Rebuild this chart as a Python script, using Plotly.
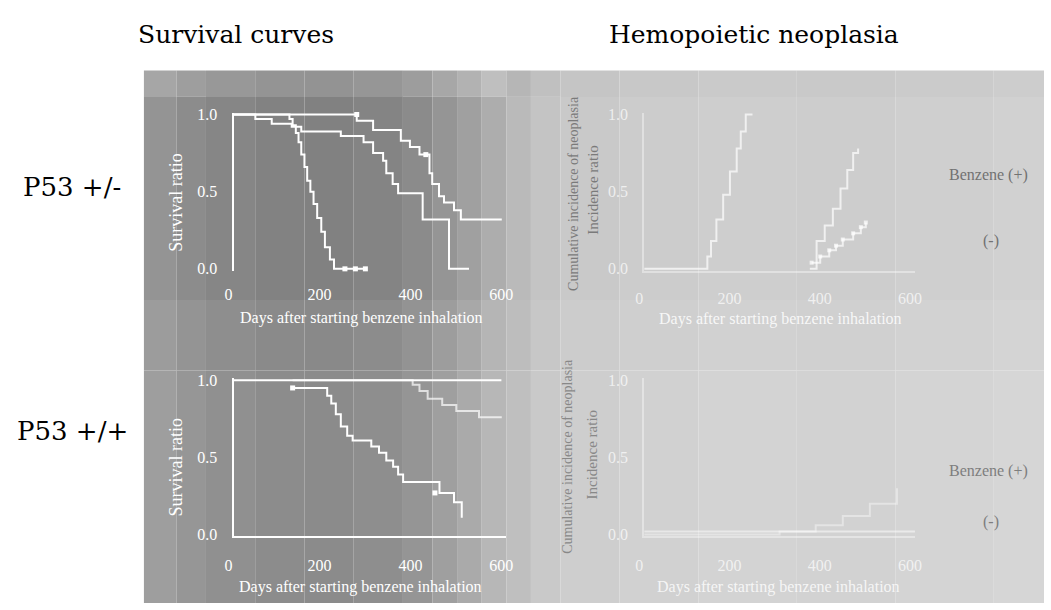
import plotly.graph_objects as go

# ---------------- data ----------------
# Survival curves, P53 +/-  (days, survival ratio; step curves)
tl_days_a = [0, 123, 130, 137, 143, 149, 156, 162, 169, 176, 184, 193, 201, 212, 221, 292]
tl_surv_a = [1.0, 0.97, 0.93, 0.88, 0.82, 0.74, 0.66, 0.57, 0.50, 0.42, 0.33, 0.24, 0.14, 0.06, 0.0, 0.0]
tl_days_b = [0, 48, 84, 128, 149, 236, 286, 307, 329, 336, 350, 362, 416, 474, 518]
tl_surv_b = [1.0, 0.97, 0.94, 0.92, 0.89, 0.86, 0.82, 0.75, 0.70, 0.62, 0.55, 0.49, 0.32, 0.0, 0.0]
tl_days_c = [0, 271, 307, 368, 388, 409, 431, 437, 452, 463, 485, 500, 590]
tl_surv_c = [1.0, 0.96, 0.90, 0.83, 0.79, 0.74, 0.62, 0.55, 0.47, 0.43, 0.38, 0.32, 0.32]
tl_cens_days = [271, 423, 245, 268, 290]
tl_cens_surv = [1.0, 0.74, 0.0, 0.0, 0.0]

# Survival curves, P53 +/+
bl_days_d = [130, 206, 215, 225, 236, 250, 262, 303, 320, 336, 351, 362, 373, 453, 485, 502]
bl_surv_d = [0.95, 0.90, 0.85, 0.78, 0.70, 0.64, 0.61, 0.57, 0.53, 0.48, 0.44, 0.39, 0.34, 0.27, 0.21, 0.11]
bl_days_e = [130, 394, 409, 427, 459, 490, 540, 590]
bl_surv_e = [1.0, 0.97, 0.93, 0.88, 0.84, 0.80, 0.76, 0.76]
bl_cens_days = [130, 443]
bl_cens_surv = [0.95, 0.27]

# Hemopoietic neoplasia, P53 +/-  (days, cumulative incidence)
tr_days_f = [0, 131, 140, 148, 160, 175, 190, 205, 214, 225, 240]
tr_inc_f = [0.0, 0.0, 0.08, 0.18, 0.32, 0.48, 0.63, 0.78, 0.89, 1.0, 1.0]
tr_days_g = [367, 382, 400, 418, 435, 450, 463, 474]
tr_inc_g = [0.0, 0.18, 0.28, 0.39, 0.52, 0.64, 0.75, 0.78]
tr_days_h = [371, 390, 410, 425, 440, 463, 480, 491]
tr_inc_h = [0.04, 0.08, 0.12, 0.15, 0.19, 0.23, 0.27, 0.30]

# Hemopoietic neoplasia, P53 +/+
br_days_i = [0, 300, 380, 440, 500, 560]
br_inc_i = [0.0, 0.02, 0.06, 0.12, 0.2, 0.3]
br_days_j = [0, 600]
br_inc_j = [0.02, 0.02]

x_ticks = [0, 200, 400, 600]
x_ticktext = ["0", "200", "400", "600"]
y_ticks = [0, 0.5, 1.0]
y_ticktext = ["0.0", "0.5", "1.0"]

col_titles = ["Survival curves", "Hemopoietic neoplasia"]
row_titles = ["P53 +/-", "P53 +/+"]
x_title = "Days after starting benzene inhalation"
y_title_left = "Survival ratio"
y_title_right = ["Cumulative incidence of neoplasia", "Incidence ratio"]
legend_texts = ["Benzene (+)", "(-)"]

# ---------------- layout helpers ----------------
W, H = 1051, 610
def fx(px):
    return px / W
def fy(py):
    return 1 - py / H

SERIF = "Liberation Serif"
TITLE_SERIF = "DejaVu Serif"
PAD = 0.012

panels = {
    # name: (x0px, x1px, y_top_px, y_bottom_px)
    "tl": (228, 505, 110, 268),
    "bl": (228, 505, 382, 540),
    "tr": (645, 920, 110, 268),
    "br": (645, 920, 382, 540),
}
axis_ids = {"tl": ("x", "y", ""), "bl": ("x2", "y2", "2"), "tr": ("x3", "y3", "3"), "br": ("x4", "y4", "4")}

fig = go.Figure()

# ---------------- background (scan tone) ----------------
col_edges = [137, 170, 200, 250, 300, 350, 400, 430, 455, 480, 505, 530, 560, 620, 700, 800, 900, 1000, 1051]
col_gray = [148, 140, 134, 130, 129, 132, 139, 149, 160, 173, 186, 196, 201, 204, 206, 205, 207, 209]
row_edges = [65, 92, 300, 372, 610]
row_adj_left = [18, 0, 8, 10]
row_adj_right = [-4, 0, 3, 5]
shapes = []
for ci in range(len(col_edges) - 1):
    for ri in range(len(row_edges) - 1):
        cx = (col_edges[ci] + col_edges[ci + 1]) / 2
        adj = row_adj_left[ri] if cx < 505 else row_adj_right[ri]
        g = max(0, min(255, col_gray[ci] + adj))
        shapes.append(dict(type="rect", xref="paper", yref="paper", layer="below",
                           x0=fx(col_edges[ci]), x1=fx(col_edges[ci + 1]),
                           y0=fy(row_edges[ri + 1]), y1=fy(row_edges[ri]),
                           line=dict(width=0), fillcolor=f"rgb({g},{g},{g})"))

# frame of the lower-left panel (top edge runs a bit further right)
shapes.append(dict(type="line", xref="paper", yref="paper", x0=fx(228), x1=fx(500), y0=fy(382), y1=fy(382),
                   line=dict(color="white", width=2)))

# ---------------- axes ----------------
layout_axes = {}
for name, (x0, x1, yt, yb) in panels.items():
    xa, ya, suf = axis_ids[name]
    span = yb - yt
    left = name in ("tl", "bl")
    txt_col = "white" if left else "rgba(255,255,255,0.7)"
    line_col = "white" if left else "rgba(255,255,255,0.4)"
    layout_axes["xaxis" + suf] = dict(
        domain=[fx(x0), fx(x1)], range=[0, 600], anchor=ya,
        showgrid=False, zeroline=False, ticks="",
        tickvals=x_ticks, ticktext=x_ticktext,
        tickfont=dict(family=SERIF, size=16, color=txt_col),
        ticklabelstandoff=12 if name in ("tl", "tr") else 13,
        ticklabelshift=-5,
        showline=(name != "tl"), linecolor=line_col, linewidth=2,
        fixedrange=True,
    )
    layout_axes["yaxis" + suf] = dict(
        domain=[fy(yb + PAD * span), fy(yt - PAD * span)], range=[-PAD, 1 + PAD], anchor=xa,
        showgrid=False, zeroline=False, ticks="",
        tickvals=y_ticks, ticktext=y_ticktext,
        tickfont=dict(family=SERIF, size=16, color=txt_col),
        ticklabelstandoff=11,
        showline=True, linecolor=line_col, linewidth=2,
        fixedrange=True,
    )

# ---------------- traces ----------------
def step(xs, ys, ax, color="white", width=2):
    fig.add_trace(go.Scatter(x=xs, y=ys, mode="lines", line=dict(color=color, width=width, shape="hv"),
                             xaxis=axis_ids[ax][0], yaxis=axis_ids[ax][1], showlegend=False, hoverinfo="skip"))

def marks(xs, ys, ax, color="white", size=5):
    fig.add_trace(go.Scatter(x=xs, y=ys, mode="markers", marker=dict(color=color, size=size, symbol="square"),
                             xaxis=axis_ids[ax][0], yaxis=axis_ids[ax][1], showlegend=False, hoverinfo="skip",
                             cliponaxis=False))

step(tl_days_a, tl_surv_a, "tl")
step(tl_days_b, tl_surv_b, "tl")
step(tl_days_c, tl_surv_c, "tl")
marks(tl_cens_days, tl_cens_surv, "tl")

step(bl_days_e, bl_surv_e, "bl", color="rgba(255,255,255,0.7)")
step(bl_days_d, bl_surv_d, "bl")
marks(bl_cens_days, bl_cens_surv, "bl")

faint = "rgba(255,255,255,0.7)"
step(tr_days_f, tr_inc_f, "tr", color=faint)
step(tr_days_g, tr_inc_g, "tr", color=faint)
step(tr_days_h, tr_inc_h, "tr", color=faint)
marks(tr_days_h, tr_inc_h, "tr", color=faint, size=4)

step(br_days_i, br_inc_i, "br", color="rgba(255,255,255,0.4)")
step(br_days_j, br_inc_j, "br", color="rgba(255,255,255,0.5)")

# ---------------- annotations ----------------
ann = []
def text(t, px, py, size, color, family=SERIF, angle=0):
    ann.append(dict(text=t, x=fx(px), y=fy(py), xref="paper", yref="paper", showarrow=False,
                    xanchor="center", yanchor="middle", textangle=angle,
                    font=dict(family=family, size=size, color=color)))

text(col_titles[0], 231, 28, 25, "black", TITLE_SERIF)
text(col_titles[1], 757, 28, 25, "black", TITLE_SERIF)
text(row_titles[0], 64, 184, 26, "black", TITLE_SERIF)
text(row_titles[1], 64, 434, 26, "black", TITLE_SERIF)

text(y_title_left, 170, 200, 18, "white", angle=-90)
text(y_title_left, 170, 471, 18, "white", angle=-90)
text(x_title, 358, 318, 16, "white")
text(x_title, 357, 594, 16, "white")
text(x_title, 783, 319, 16, "rgba(255,255,255,0.85)")
text(x_title, 781, 594, 16, "rgba(255,255,255,0.8)")

text(y_title_right[0], 573, 191, 14, "#7a7a7a", angle=-90)
text(y_title_right[1], 593, 187, 15, "#7a7a7a", angle=-90)
text(y_title_right[0], 567, 460, 14, "#888888", angle=-90)
text(y_title_right[1], 593, 458, 15, "#888888", angle=-90)

text(legend_texts[0], 995, 172, 16, "#727272")
text(legend_texts[1], 997, 240, 16, "#727272")
text(legend_texts[0], 995, 475, 16, "#7e7e7e")
text(legend_texts[1], 997, 527, 16, "#7e7e7e")

fig.update_layout(
    width=W, height=H, autosize=False,
    margin=dict(l=0, r=0, t=0, b=0, pad=0),
    paper_bgcolor="white", plot_bgcolor="rgba(0,0,0,0)",
    shapes=shapes, annotations=ann, showlegend=False,
    font=dict(family=SERIF),
    **layout_axes,
)

fig.write_html("out.html", config={"displayModeBar": False})
